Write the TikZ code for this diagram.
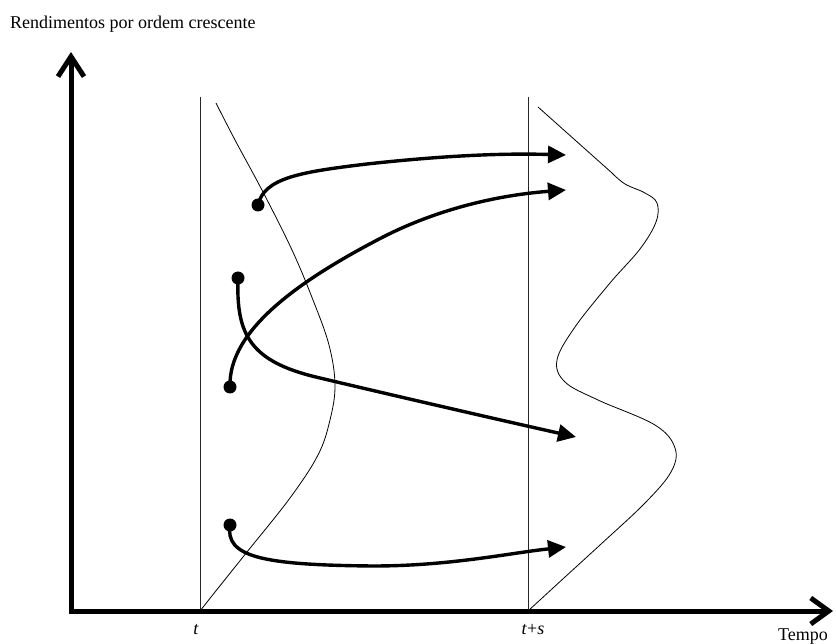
\documentclass[tikz,border=0pt]{standalone}
\usepackage{fontspec}
\setmainfont{Liberation Serif}
\usetikzlibrary{arrows.meta}
\begin{document}
\begin{tikzpicture}[x=1pt,y=-1pt,
  axisline/.style={line width=5pt,{Straight Barb[length=20pt,width=26pt]}-{Straight Barb[length=18pt,width=26pt]}},
  guide/.style={line width=1pt,black!85},
  dist/.style={line width=0.8pt},
  flow/.style={line width=3.4pt,-{Triangle[length=18pt,width=17pt]}},
  dotnode/.style={circle,fill=black,inner sep=0pt,minimum size=13pt},
  lbl/.style={font=\fontsize{18}{20}\selectfont,inner sep=0pt}]
\useasboundingbox (0,0) rectangle (836,644);
% axes
\coordinate (ytip) at (71,52);
\coordinate (orig) at (71,611);
\coordinate (xtip) at (833,611);
\draw[axisline] (ytip) -- (orig) -- (xtip);
% labels
\node[lbl,anchor=base west] (ylab) at (10,29) {Rendimentos por ordem crescente};
\node[lbl,anchor=base west] (xlab) at (778,640) {Tempo};
\node[lbl,anchor=base] (tlab) at (196,634) {\textit{t}};
\node[lbl,anchor=base] (tslab) at (533,634) {\textit{t}+\textit{s}};
% vertical time lines
\coordinate (t0top) at (200,97);
\coordinate (t0bot) at (200,611);
\coordinate (t1top) at (528,97);
\coordinate (t1bot) at (528,611);
\draw[guide] (t0top) -- (t0bot);
\draw[guide] (t1top) -- (t1bot);
% distribution at t
\draw[dist] plot[smooth,tension=0.6] coordinates {(216,103) (235,140) (263,192) (292,250) (313,300) (329,345) (335,385) (330,420) (318,455) (290,498) (247,552) (215,592) (200,611)};
% distribution at t+s
\draw[dist] (538,107) -- (612,173) -- plot[smooth,tension=0.6] coordinates {(612,173) (625,184) (645,193) (657,203) (656,222) (640,249) (610,283) (575,327) (557,360) (565,382) (598,400) (655,425) (675,448) (671,472) (645,503) (600,545) (565,577) (528,611)};
% flows
\node[dotnode] (a1) at (258,205) {};
\node[dotnode] (b1) at (230,387) {};
\node[dotnode] (c1) at (238,278) {};
\node[dotnode] (d1) at (230,525) {};
\coordinate (a2) at (566,155);
\coordinate (b2) at (566,190);
\coordinate (c2) at (576,437);
\coordinate (d2) at (566,547);
\draw[flow] (a1.center) .. controls (264,178) and (300,172) .. (367,164) .. controls (440,156) and (500,153) .. (a2);
\draw[flow] (b1.center) .. controls (228,330) and (300,280) .. (383,237) .. controls (440,208) and (500,195) .. (b2);
\draw[flow] (c1.center) .. controls (236,335) and (250,362) .. (320,378) .. controls (400,397) and (500,420) .. (c2);
\draw[flow] (d1.center) .. controls (225,557) and (262,565) .. (373,566) .. controls (450,566) and (510,553) .. (d2);
\end{tikzpicture}
\end{document}
